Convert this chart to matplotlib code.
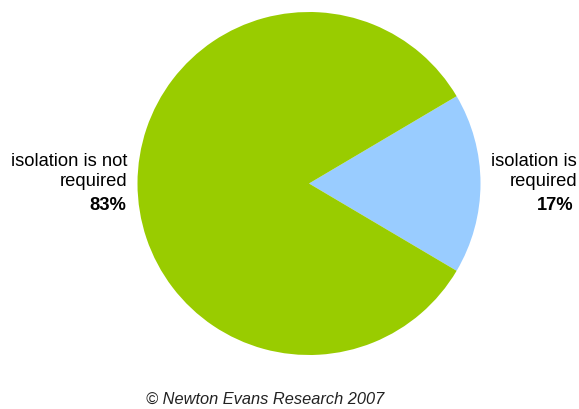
import matplotlib
matplotlib.use('Agg')
import matplotlib.pyplot as plt

labels = ['isolation is\nrequired', 'isolation is not\nrequired']
values = [17, 83]
colors = ['#99CCFF', '#99CC00']

plt.rcParams['font.family'] = ['Liberation Sans', 'DejaVu Sans']

fig = plt.figure(figsize=(5.79, 4.09), dpi=100)
ax = fig.add_axes([0, 0, 1, 1])

cx, cy, r = 309, 409 - 183.5, 171.5
ax.pie(values, colors=colors, startangle=-30.6, counterclock=True,
       center=(cx, cy), radius=r, frame=True)

ax.set_xlim(0, 579)
ax.set_ylim(0, 409)
ax.set_aspect('equal')
ax.axis('off')

fs = 13.2
# right label (17%)
ax.text(577, 409 - 171.5, labels[0], ha='right', va='center', fontsize=fs,
        linespacing=1.25)
ax.text(574, 409 - 206, f'{values[0]}%', ha='right', va='center', fontsize=fs,
        fontweight='bold')
# left label (83%)
ax.text(127, 409 - 171.5, labels[1], ha='right', va='center', fontsize=fs,
        linespacing=1.25)
ax.text(126, 409 - 206, f'{values[1]}%', ha='right', va='center', fontsize=fs,
        fontweight='bold')

ax.text(265, 409 - 399, '© Newton Evans Research 2007', ha='center', va='center',
        fontsize=11.8, style='italic', color='#222222')

fig.savefig('out.png', dpi=100)
